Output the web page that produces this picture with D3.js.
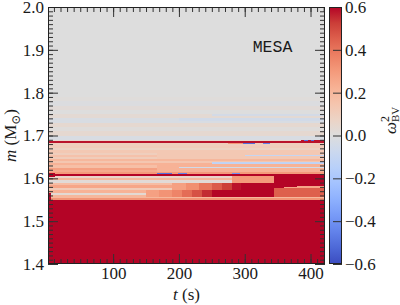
<!DOCTYPE html>
<html>
<head>
<meta charset="utf-8">
<script src="https://cdn.jsdelivr.net/npm/d3@7"></script>
<style>
  body { margin: 0; background: #fff; }
  svg text { font-family: "Liberation Serif", "DejaVu Serif", serif; fill: #1a1a1a; }
</style>
</head>
<body>
<svg id="chart" width="400" height="305"></svg>
<script>
// ranges and ticks
var tRange = [1, 422];
var mRange = [1.4, 2.0];
var cRange = [-0.6, 0.6];
var yTicks = [1.4, 1.5, 1.6, 1.7, 1.8, 1.9, 2.0];
var xTicks = [100, 200, 300, 400];
var cTicks = [-0.6, -0.4, -0.2, 0.0, 0.2, 0.4, 0.6];

// horizontal layers, constant in time: [m bottom, m top, omega^2]
var layers = [
  [1.400, 1.550, 0.80],
  [1.550, 1.555, 0.32],
  [1.555, 1.561, 0.20],
  [1.561, 1.566, 0.03],
  [1.566, 1.572, 0.22],
  [1.572, 1.578, 0.12],
  [1.578, 1.585, 0.26],
  [1.585, 1.590, 0.18],
  [1.590, 1.595, 0.02],
  [1.595, 1.600, 0.20],
  [1.600, 1.6055, 0.06],
  [1.6055, 1.6105, 0.60],
  [1.6105, 1.615, 0.30],
  [1.615, 1.620, 0.25],
  [1.620, 1.625, 0.28],
  [1.625, 1.630, 0.17],
  [1.630, 1.635, 0.22],
  [1.635, 1.640, 0.14],
  [1.640, 1.645, 0.20],
  [1.645, 1.650, 0.11],
  [1.650, 1.655, 0.16],
  [1.655, 1.660, 0.10],
  [1.660, 1.665, 0.13],
  [1.665, 1.670, 0.08],
  [1.670, 1.675, 0.11],
  [1.675, 1.6825, 0.10],
  [1.6825, 1.687, 0.58],
  [1.687, 1.690, 0.05],
  [1.690, 1.700, -0.02],
  [1.700, 1.710, 0.04],
  [1.710, 1.720, 0.01],
  [1.720, 1.730, 0.04],
  [1.730, 1.740, -0.02],
  [1.740, 1.750, 0.03],
  [1.750, 1.760, 0.00],
  [1.760, 1.770, 0.02],
  [1.770, 1.780, -0.01],
  [1.780, 1.790, 0.01],
  [1.790, 2.000, 0.00]
];

// parts that change with time: [t start, t end, m bottom, m top, omega^2]
var patches = [
  [1, 12, 1.603, 1.612, 0.70],
  [1, 6, 1.550, 1.565, 0.70],
  [167, 422, 1.645, 1.665, 0.13],
  [167, 422, 1.615, 1.630, 0.22],
  [200, 422, 1.624, 1.627, -0.05],
  [250, 422, 1.634, 1.638, -0.12],
  [300, 422, 1.652, 1.655, -0.10],
  [200, 422, 1.735, 1.740, -0.05],
  [250, 422, 1.745, 1.750, -0.04],
  // lower rows heating up
  [150, 170, 1.556, 1.572, 0.28],
  [170, 190, 1.556, 1.572, 0.32],
  [190, 205, 1.556, 1.572, 0.36],
  [205, 220, 1.556, 1.572, 0.42],
  [220, 235, 1.556, 1.572, 0.48],
  [235, 250, 1.556, 1.572, 0.55],
  [250, 265, 1.556, 1.572, 0.62],
  [265, 345, 1.556, 1.572, 0.75],
  // upper rows heating up later
  [190, 210, 1.572, 1.588, 0.28],
  [210, 230, 1.572, 1.588, 0.33],
  [230, 250, 1.572, 1.588, 0.40],
  [250, 265, 1.572, 1.588, 0.46],
  [265, 280, 1.572, 1.588, 0.52],
  [280, 295, 1.572, 1.588, 0.58],
  [295, 310, 1.572, 1.588, 0.65],
  [310, 345, 1.572, 1.588, 0.72],
  [280, 345, 1.590, 1.6055, 0.30],
  // red wedge after t ~ 345
  [345, 360, 1.577, 1.606, 0.75],
  [360, 380, 1.579, 1.606, 0.75],
  [380, 400, 1.581, 1.606, 0.75],
  [400, 422, 1.583, 1.606, 0.75],
  [345, 422, 1.556, 1.577, 0.45],
  // blue and pink flecks along the thin red lines
  [167, 190, 1.6105, 1.6135, -0.50],
  [199, 213, 1.6105, 1.6135, -0.45],
  [281, 293, 1.6105, 1.6135, -0.40],
  [275, 298, 1.6795, 1.6825, 0.30],
  [298, 316, 1.6795, 1.6825, -0.50],
  [328, 339, 1.6795, 1.6825, -0.45],
  [385, 422, 1.684, 1.690, 0.58],
  [390, 396, 1.686, 1.689, -0.50],
  [400, 406, 1.686, 1.689, -0.50]
];

// matplotlib coolwarm
var coolwarm = ["#3b4cc0", "#4d68d7", "#6282ea", "#779af7", "#8db0fe", "#a3c2ff",
  "#b8d0f9", "#cbd8ee", "#dddddd", "#ecd3c5", "#f5c4ad", "#f7b194", "#f49a7b",
  "#ec7f63", "#de604d", "#cb3e38", "#b40426"];
var interp = d3.piecewise(d3.interpolateRgb, coolwarm);
var color = d3.scaleSequential(interp).domain(cRange).clamp(true);

var svg = d3.select("#chart");
var pL = 48, pR = 325, pT = 7, pB = 264;

var x = d3.scaleLinear().domain(tRange).range([pL, pR]);
var y = d3.scaleLinear().domain(mRange).range([pB, pT]);
var c = d3.scaleLinear().domain(cRange).range([pB, pT]);

var defs = svg.append("defs");
defs.append("clipPath").attr("id", "plotclip")
  .append("rect").attr("x", pL).attr("y", pT)
  .attr("width", pR - pL).attr("height", pB - pT);

var cells = svg.append("g").attr("clip-path", "url(#plotclip)")
  .attr("shape-rendering", "crispEdges");

cells.selectAll("rect.layer").data(layers).enter().append("rect")
  .attr("class", "layer")
  .attr("x", x(tRange[0]))
  .attr("width", x(tRange[1]) - x(tRange[0]))
  .attr("y", function (d) { return y(d[1]); })
  .attr("height", function (d) { return y(d[0]) - y(d[1]); })
  .attr("fill", function (d) { return color(d[2]); });

cells.selectAll("rect.patch").data(patches).enter().append("rect")
  .attr("class", "patch")
  .attr("x", function (d) { return x(d[0]); })
  .attr("width", function (d) { return x(d[1]) - x(d[0]); })
  .attr("y", function (d) { return y(d[3]); })
  .attr("height", function (d) { return y(d[2]) - y(d[3]); })
  .attr("fill", function (d) { return color(d[4]); });

// axes, ticks pointing inward
function clean(g) {
  g.select(".domain").remove();
  g.selectAll(".tick line").attr("stroke", "#333");
  g.attr("font-family", null).attr("font-size", 17);
}
var fmt = d3.format(".1f");
var yMinor = d3.range(140, 201, 1).map(function (v) { return v / 100; });
var xMinor = d3.range(10, 421, 10);

svg.append("g").attr("transform", "translate(" + pL + ",0)")
  .call(d3.axisLeft(y).tickValues(yMinor).tickSize(-5).tickFormat("")).call(clean);
svg.append("g").attr("transform", "translate(" + pL + ",0)")
  .call(d3.axisLeft(y).tickValues(yTicks).tickSize(-10).tickPadding(4).tickFormat(fmt)).call(clean);
svg.append("g").attr("transform", "translate(" + pR + ",0)")
  .call(d3.axisRight(y).tickValues(yMinor).tickSize(-5).tickFormat("")).call(clean);
svg.append("g").attr("transform", "translate(" + pR + ",0)")
  .call(d3.axisRight(y).tickValues(yTicks).tickSize(-10).tickFormat("")).call(clean);

svg.append("g").attr("transform", "translate(0," + pB + ")")
  .call(d3.axisBottom(x).tickValues(xMinor).tickSize(-5).tickFormat("")).call(clean);
svg.append("g").attr("transform", "translate(0," + pB + ")")
  .call(d3.axisBottom(x).tickValues(xTicks).tickSize(-10).tickPadding(3)).call(clean);
svg.append("g").attr("transform", "translate(0," + pT + ")")
  .call(d3.axisTop(x).tickValues(xMinor).tickSize(-5).tickFormat("")).call(clean);
svg.append("g").attr("transform", "translate(0," + pT + ")")
  .call(d3.axisTop(x).tickValues(xTicks).tickSize(-10).tickFormat("")).call(clean);

svg.append("rect").attr("x", pL + 0.5).attr("y", pT + 0.5)
  .attr("width", pR - pL - 1).attr("height", pB - pT - 1)
  .attr("fill", "none").attr("stroke", "#222");

// colorbar
var cbL = 329, cbR = 342;
var grad = defs.append("linearGradient").attr("id", "cbgrad")
  .attr("x1", 0).attr("y1", 1).attr("x2", 0).attr("y2", 0);
grad.selectAll("stop").data(coolwarm).enter().append("stop")
  .attr("offset", function (d, i) { return i / (coolwarm.length - 1); })
  .attr("stop-color", function (d) { return d; });
svg.append("rect").attr("x", cbL).attr("y", pT)
  .attr("width", cbR - cbL).attr("height", pB - pT)
  .attr("fill", "url(#cbgrad)");
svg.append("g").attr("transform", "translate(" + cbR + ",0)")
  .call(d3.axisRight(c).tickValues(cTicks).tickSize(-9).tickPadding(3).tickFormat(fmt)).call(clean);
svg.append("rect").attr("x", cbL + 0.5).attr("y", pT + 0.5)
  .attr("width", cbR - cbL - 1).attr("height", pB - pT - 1)
  .attr("fill", "none").attr("stroke", "#222");

// labels
svg.append("text").attr("x", 272.5).attr("y", 52).attr("text-anchor", "middle")
  .style("font-family", "'Liberation Mono', monospace").attr("font-size", 16.5)
  .text("MESA");

var xl = svg.append("text").attr("x", (pL + pR) / 2).attr("y", 300)
  .attr("text-anchor", "middle").attr("font-size", 17);
xl.append("tspan").attr("font-style", "italic").text("t");
xl.append("tspan").text(" (s)");

var yl = svg.append("text").attr("transform", "translate(16," + (pT + pB) / 2 + ") rotate(-90)")
  .attr("text-anchor", "middle").attr("font-size", 17);
yl.append("tspan").attr("font-style", "italic").text("m");
yl.append("tspan").text(" (M");
yl.append("tspan").attr("font-size", 12).attr("dy", 4).text("\u2299");
yl.append("tspan").attr("dy", -4).text(")");

var cl = svg.append("text").attr("transform", "translate(396,134) rotate(-90)")
  .attr("font-size", 17);
cl.append("tspan").attr("font-style", "italic").text("\u03c9");
cl.append("tspan").attr("font-size", 12).attr("dy", -7).text("2");
cl.append("tspan").attr("font-size", 11).attr("dx", -6).attr("dy", 10).text("BV");
</script>
</body>
</html>
